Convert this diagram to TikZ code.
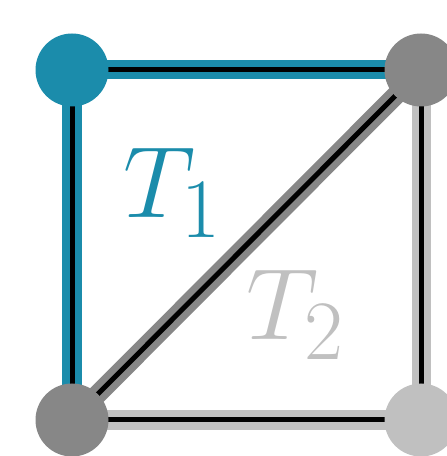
\documentclass[tikz,border=0pt]{standalone}
\usepackage{amsmath}
\usepackage{graphicx}
\usepackage{xcolor}
\usepackage{tikz}

\definecolor{tealT}{RGB}{27,140,171}
\definecolor{grayM}{RGB}{135,135,135}
\definecolor{grayL}{RGB}{192,192,192}

\newcommand{\trilab}[1]{\scalebox{1.16}{$#1$}}

\tikzset{
    edge/.style={draw=#1, line width=0.07cm, double=black, double distance=0.05cm},
    vert/.style={circle, fill=#1, minimum size=0.73cm, inner sep=0pt},
    lab/.style={text=#1, font=\Huge, inner sep=0pt}
}

\begin{document}
\begin{tikzpicture}
    \useasboundingbox (0,0) rectangle (4.46,4.56);

    % Vertices of the square
    \coordinate (A) at (0.72,3.86);
    \coordinate (B) at (4.21,3.86);
    \coordinate (C) at (0.72,0.36);
    \coordinate (D) at (4.21,0.36);

    % Edges of the triangle T2
    \draw[edge=grayL] (B) -- (D);
    \draw[edge=grayL] (C) -- (D);

    % Edges of the triangle T1
    \draw[edge=tealT] (A) -- (B);
    \draw[edge=tealT] (A) -- (C);

    % Shared diagonal
    \draw[edge=grayM] (C) -- (B);

    % Vertex discs
    \node[vert=tealT] (a) at (A) {};
    \node[vert=grayM] (b) at (B) {};
    \node[vert=grayM] (c) at (C) {};
    \node[vert=grayL] (d) at (D) {};

    % Labels
    \node[lab=tealT] (t1) at (1.73,2.63) {\trilab{T_1}};
    \node[lab=grayL] (t2) at (2.96,1.41) {\trilab{T_2}};
\end{tikzpicture}
\end{document}
